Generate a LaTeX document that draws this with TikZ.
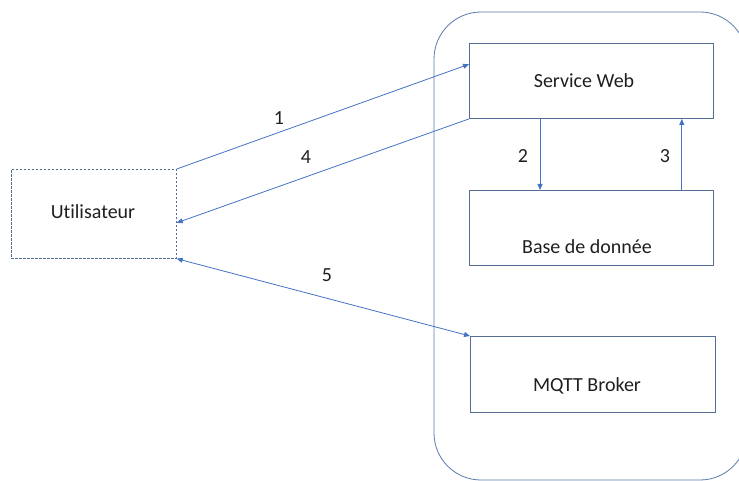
\documentclass[tikz,border=0pt]{standalone}
\usepackage{fontspec}
\setmainfont{Carlito}[Ligatures={NoCommon}]
\usetikzlibrary{arrows.meta,calc}
\definecolor{linkblue}{RGB}{68,114,196}
\definecolor{frameblue}{RGB}{84,110,150}
\definecolor{outerblue}{RGB}{92,122,170}
\tikzset{
  box/.style={draw=frameblue, line width=0.9pt, minimum width=244pt, minimum height=75pt, inner sep=0pt, anchor=north west},
  userbox/.style={draw=frameblue, dash pattern=on 2.5pt off 1.5pt, line width=0.7pt, minimum width=165pt, minimum height=89pt, inner sep=0pt, anchor=north west},
  link/.style={draw=linkblue, line width=0.8pt, -{Triangle[length=6pt,width=5pt]}},
  dlink/.style={draw=linkblue, line width=0.8pt, {Triangle[length=6pt,width=5pt]}-{Triangle[length=6pt,width=5pt]}},
  txt/.style={font=\fontsize{20}{24}\selectfont, text=black!88, inner sep=0pt},
  num/.style={font=\fontsize{20}{24}\selectfont, text=black!88, inner sep=0pt}
}
\begin{document}
\begin{tikzpicture}[x=1pt,y=-1pt]
\useasboundingbox (0,0) rectangle (739,481);
\begin{scope}
\clip (0,0) rectangle (739,481);
% server enclosure, running past the page edges
\draw[outerblue, line width=0.8pt, rounded corners=47pt] (434,12) rectangle (747,480);
\end{scope}

% components
\node[userbox] (user) at (11,169) {};
\node[txt] at (93,212) {Utilisateur};
\node[box] (web) at (469,43) {};
\node[txt] at (584,81) {Service Web};
\node[box] (db) at (469,190) {};
\node[txt] at (587,247) {Base de donnée};
\node[box, minimum width=245pt, minimum height=76pt] (mqtt) at (470,336) {};
\node[txt] at (587,386) {MQTT Broker};

% exchanges
\coordinate (webin) at ($(web.north west)!0.28!(web.south west)$);
\coordinate (userin) at ($(user.north east)!0.6!(user.south east)$);
\draw[link] (user.north east) -- (webin);
\draw[link] (web.south west) -- (userin);
\draw[dlink] (user.south east) -- (mqtt.north west);
\draw[link] ($(web.south west)!0.29!(web.south east)$) -- ($(db.north west)!0.29!(db.north east)$);
\draw[link] ($(db.north west)!0.869!(db.north east)$) -- ($(web.south west)!0.869!(web.south east)$);

% step numbers
\node[num] (n1) at (279,118) {1};
\node[num] (n4) at (306,157) {4};
\node[num] (n5) at (327,275) {5};
\node[num] (n2) at (523,156) {2};
\node[num] (n3) at (665,156) {3};
\end{tikzpicture}
\end{document}
